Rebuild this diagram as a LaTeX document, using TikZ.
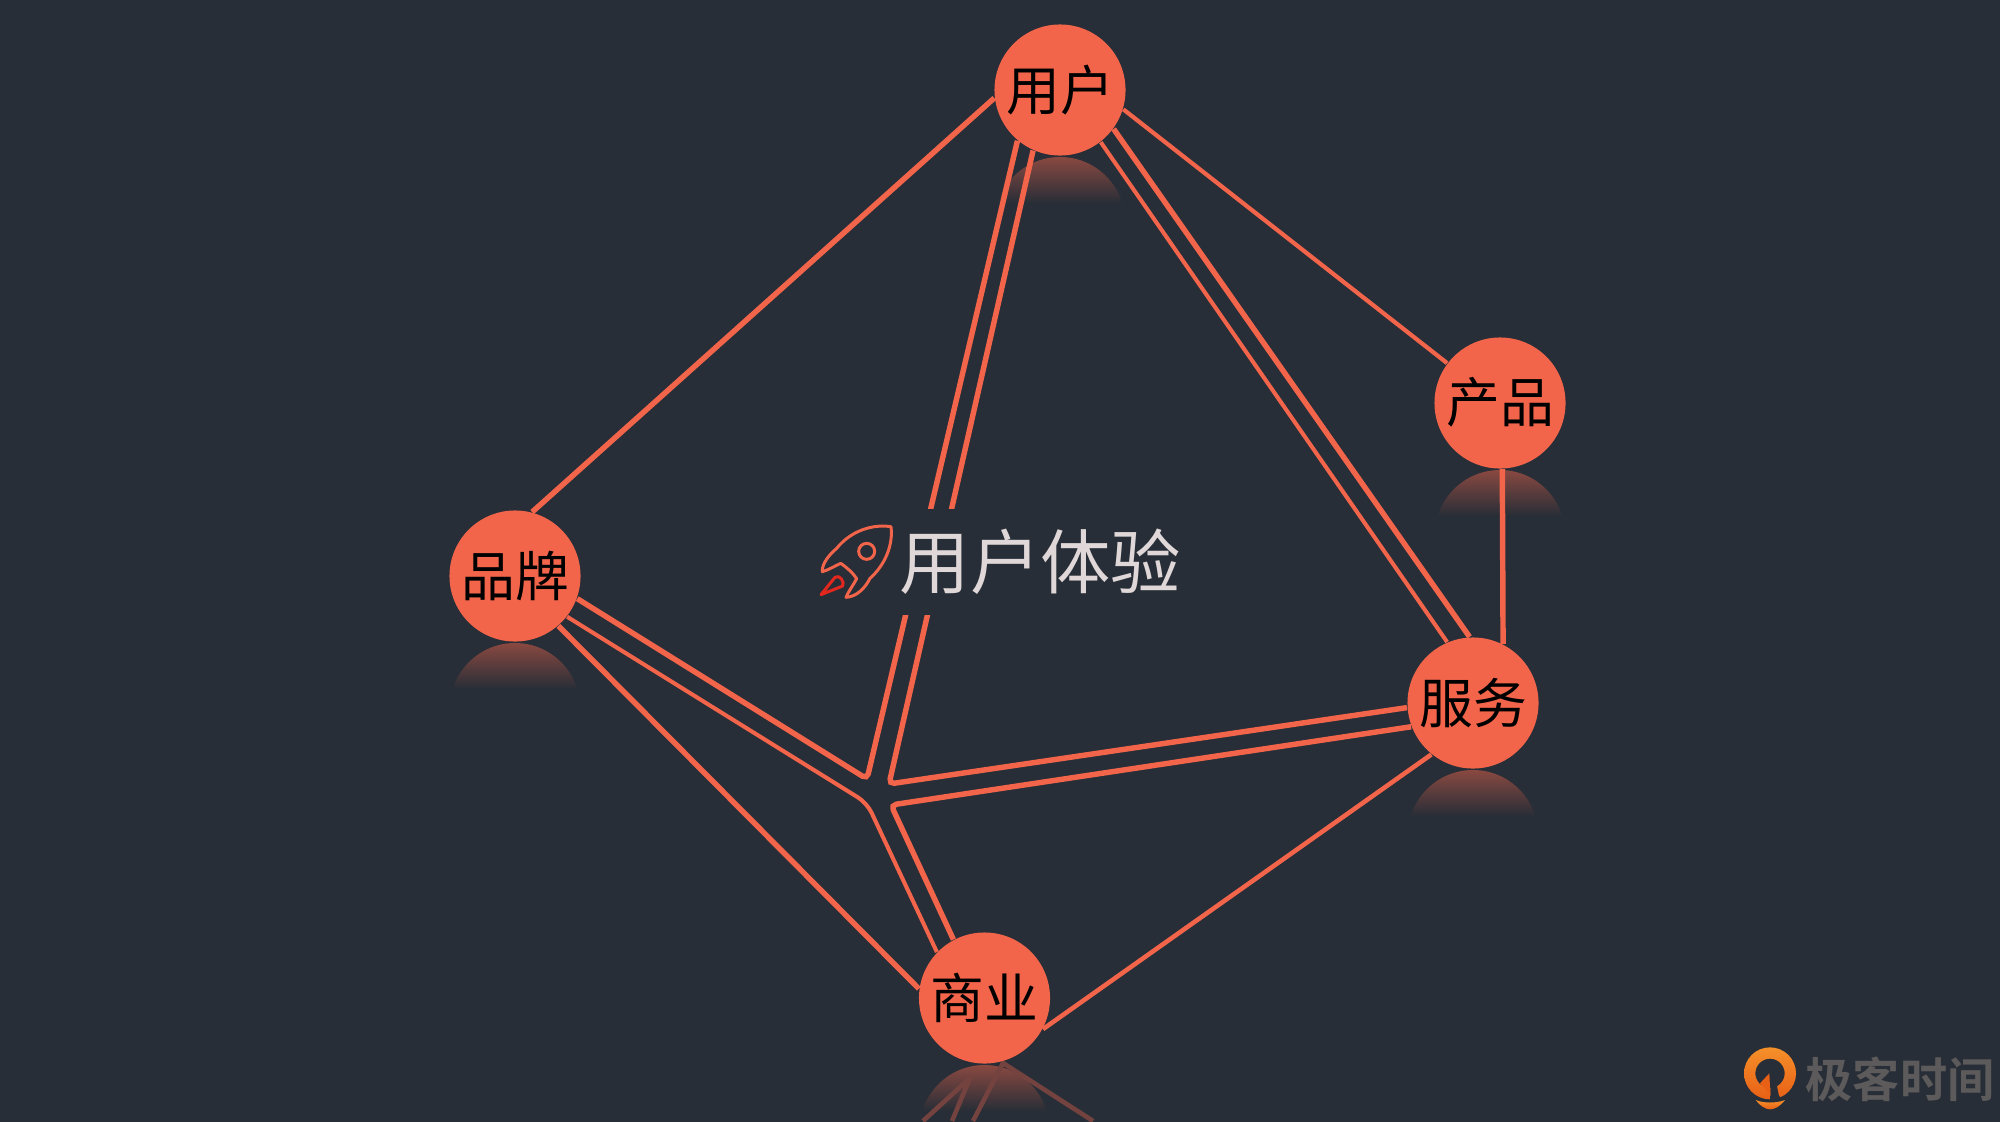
\documentclass[tikz,border=0pt]{standalone}
\usepackage{fontspec}
\usepackage{xcolor}
\setmainfont{Noto Sans CJK SC}
\newfontfamily\cjkbold[BoldFont={Noto Sans CJK SC Bold}]{Noto Sans CJK SC}
\usetikzlibrary{calc}
\definecolor{fondo}{RGB}{40,46,55}
\definecolor{coral}{RGB}{242,101,75}
\definecolor{claro}{RGB}{224,216,216}
\definecolor{marca}{RGB}{92,90,90}
\definecolor{llama}{RGB}{226,40,30}
\definecolor{naranja}{RGB}{245,144,42}
\definecolor{naranjab}{RGB}{232,96,22}

\begin{document}
\begin{tikzpicture}[x=0.01cm,y=-0.01cm,
tema/.style={circle,fill=coral,text=black,minimum size=1.31cm,inner sep=0pt,text height=12.7pt,font=\fontsize{15.3pt}{16pt}\selectfont},
arista/.style={draw=coral,line width=1.55pt,rounded corners=1.5pt},
fina/.style={draw=coral,line width=1.15pt,rounded corners=2pt},
titulo/.style={fill=fondo,text=claro,inner sep=0pt,text width=3.6cm,align=right,minimum height=1.06cm,font=\fontsize{20pt}{22pt}\selectfont},
logotipo/.style={text=marca,font=\fontsize{13.4pt}{15pt}\selectfont\bfseries},
eco/.style={draw=coral!38!fondo,line width=1.3pt,line join=round}
]
\useasboundingbox (0,0) rectangle (2000,1121);
\fill[fondo] (-5,-5) rectangle (2005,1126);

\coordinate (yonghu) at (1060,90);
\coordinate (chanpin) at (1500,403);
\coordinate (pinpai) at (515,576);
\coordinate (fuwu) at (1473,703);
\coordinate (shangye) at (984.5,998);

% reflejos
\foreach \n in {yonghu,chanpin,pinpai,fuwu,shangye}{
  \begin{scope}
    \clip ($(\n)+(0,132)$) circle [radius=65];
    \shade[top color=coral!48!fondo,bottom color=fondo] ($(\n)+(-70,67)$) rectangle ($(\n)+(70,113)$);
  \end{scope}
}
\coordinate (eco1) at (923,1121);
\coordinate (eco2) at (970,1078);
\coordinate (eco3) at (952,1121);
\coordinate (eco4) at (1003,1063);
\coordinate (eco5) at (973,1121);
\coordinate (eco6) at (1093,1121);
\draw[eco] (eco1) -- (eco2) -- (eco3);
\draw[eco] (eco5) -- (eco4) -- (eco6);

\node[tema] (yonghu) at (1060,90) {用户};
\node[tema] (chanpin) at (1500,403) {产品};
\node[tema] (pinpai) at (515,576) {品牌};
\node[tema] (fuwu) at (1473,703) {服务};
\node[tema] (shangye) at (984.5,998) {商业};

\coordinate (cruce1) at (867,779);
\coordinate (cruce2) at (889,784);
\coordinate (cruce3) at (867,803);
\coordinate (cruce4) at (891,805);

\draw[arista] (yonghu.187) -- (pinpai.75);
\draw[arista,line width=1.2pt] (yonghu.-17.6) -- (chanpin.143);
\draw[arista] (chanpin.-88) -- (fuwu.63.4);
\draw[arista] (yonghu.-36.5) -- (fuwu.93.5);
\draw[fina] (yonghu.-52.3) -- (fuwu.113);
\draw[arista] (pinpai.-49.4) -- (shangye.172);
\draw[arista,line width=1.3pt] (fuwu.231) -- (shangye.-28);
\draw[arista] (pinpai.-20.7) -- (cruce1) -- (yonghu.230.4);
\draw[arista] (yonghu.246.5) -- (cruce2) -- (fuwu.184.4);
\draw[fina,rounded corners=3pt] (pinpai.-38.7) -- (cruce3) -- (shangye.136.8);
\draw[arista] (fuwu.201) -- (cruce4) -- (shangye.118);

\node[titulo,anchor=east] (experiencia) at (1182,562) {用户体验};

% cohete
\begin{scope}[shift={(780,480)},scale=1/3]
  \draw[coral,line width=0.85pt,line join=round] (333,140) .. controls (280,132) and (215,150) .. (170,205)
    .. controls (150,222) and (125,250) .. (127,275)
    .. controls (145,270) and (165,258) .. (182,250)
    .. controls (200,262) and (220,280) .. (230,296)
    .. controls (220,315) and (205,335) .. (198,352)
    .. controls (230,350) and (255,325) .. (270,295)
    .. controls (315,255) and (340,195) .. (333,140) -- cycle;
  \draw[coral,line width=0.85pt] (260,214) circle [radius=24];
  \draw[llama,line width=0.85pt,line join=round] (123,344) -- (165,292) .. controls (178,282) and (195,305) .. (188,318) -- cycle;
\end{scope}

% logo
\begin{scope}[shift={(1735,1040)},scale=1/3]
  \path[top color=naranja,bottom color=naranjab,even odd rule] (105,100) circle [radius=78] (105,100) circle [radius=44];
  \fill[fondo] (108,95) -- (118,100) -- (132,168) -- (150,185) -- (105,185) -- (106,160) -- cycle;
  \path[top color=naranjab,bottom color=naranjab] (75,130) -- (103,100) -- (106,165) -- cycle;
  \path[top color=naranja,bottom color=naranjab] (62,180) .. controls (85,190) and (125,190) .. (150,180) .. controls (135,200) and (118,208) .. (105,208) .. controls (92,208) and (75,198) .. (62,180) -- cycle;
\end{scope}
\node[logotipo] (marca) at (1900,1079) {\cjkbold\bfseries 极客时间};
\end{tikzpicture}
\end{document}
